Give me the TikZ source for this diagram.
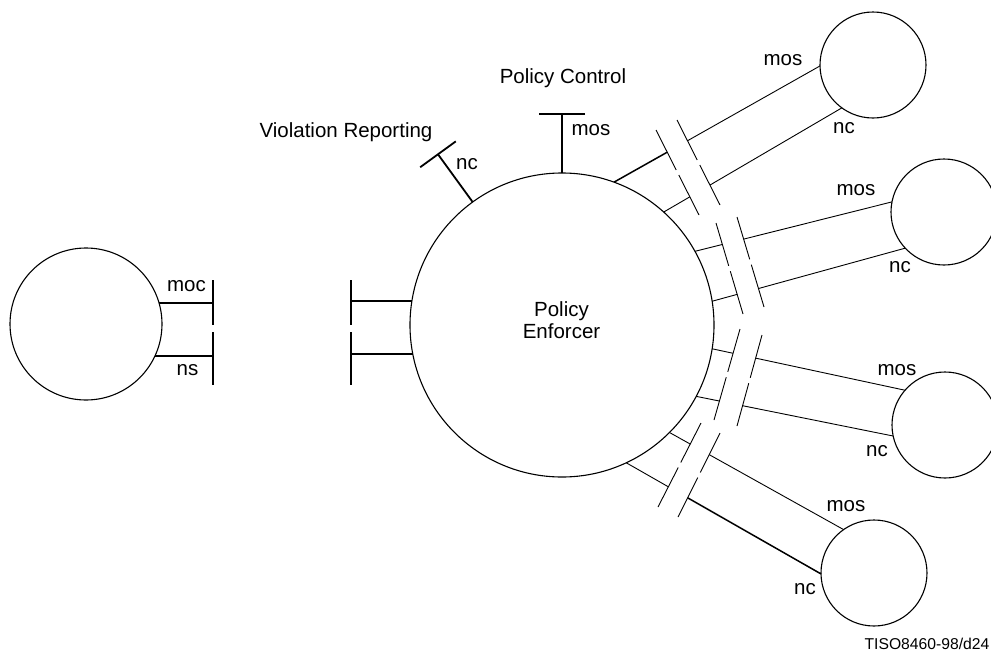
\documentclass[tikz,border=0pt]{standalone}
\usepackage{fontspec}
\setmainfont{Liberation Sans}
\usetikzlibrary{calc}
\begin{document}
\begin{tikzpicture}[x=1pt,y=-1pt,
  every node/.style={font=\fontsize{20.5}{22}\selectfont, inner sep=0pt, outer sep=0pt},
  circ/.style={draw, circle, line width=1.1pt, minimum size=#1, inner sep=0pt, outer sep=0pt},
  conn/.style={line width=0.9pt},
  thickconn/.style={line width=1.5pt},
  stub/.style={line width=1.8pt},
  brk/.style={line width=0.9pt},
  lbl/.style={anchor=base},
  small/.style={font=\fontsize{15.7}{18}\selectfont}]
\useasboundingbox (0,0) rectangle (991,651);

% circles
\node[circ=304pt] (main) at (562,325) {};
\node[circ=152pt] (L) at (86,324) {};
\node[circ=106pt] (r1) at (873,65) {};
\node[circ=106pt] (r2) at (944,212) {};
\node[circ=106pt] (r3) at (945,425) {};
\node[circ=106pt] (r4) at (874,573) {};

% texts
\node[lbl] (pe1) at (561.5,316) {Policy};
\node[lbl] (pe2) at (561.5,338) {Enforcer};
\node[lbl] (tpc) at (563,83) {Policy Control};
\node[lbl] (tvr) at (346,137) {Violation Reporting};
\node[lbl] (tmos0) at (591,135) {mos};
\node[lbl] (tnc0) at (467,169) {nc};
\node[lbl] (tmoc) at (186.5,291) {moc};
\node[lbl] (tns) at (187.5,375) {ns};
\node[lbl] (tmos1) at (783,65) {mos};
\node[lbl] (tnc1) at (844,133) {nc};
\node[lbl] (tmos2) at (856,195) {mos};
\node[lbl] (tnc2) at (900,272) {nc};
\node[lbl] (tmos3) at (897,375) {mos};
\node[lbl] (tnc3) at (877,456) {nc};
\node[lbl] (tmos4) at (846,511) {mos};
\node[lbl] (tnc4) at (805,594) {nc};
\node[lbl,small] (tref) at (927,649) {TISO8460-98/d24};

% top stub (Policy Control)
\coordinate (tpE) at ($(main.center)!211pt!(main.90)$);
\draw[stub] (main.90) -- (tpE);
\draw[stub] ($(tpE)!23pt!90:(main.center)$) -- ($(tpE)!23pt!-90:(main.center)$);

% violation reporting stub
\coordinate (vrE) at ($(main.center)!211pt!(main.126.9)$);
\draw[stub] (main.126.9) -- (vrE);
\draw[stub] ($(vrE)!22pt!90:(main.center)$) -- ($(vrE)!22pt!-90:(main.center)$);

% left stubs of main circle
\coordinate (mbar) at (351,0);
\draw[stub] (main.171.3) -- (main.171.3 -| mbar);
\draw[stub] (main.191.8) -- (main.191.8 -| mbar);
\draw[stub] (351,280) -- (351,325);
\draw[stub] (351,332) -- (351,385);

% stubs of left circle
\coordinate (lbar) at (213,0);
\draw[stub] (L.16.8) -- (L.16.8 -| lbar);
\draw[stub] (L.335.1) -- (L.335.1 -| lbar);
\draw[stub] (213,280) -- (213,325);
\draw[stub] (213,332) -- (213,385);

% break slashes
\coordinate (a1t) at (656,130); \coordinate (a1b) at (699,215);
\coordinate (b1t) at (677,120); \coordinate (b1b) at (720,205);
\coordinate (a2t) at (716,223); \coordinate (a2b) at (743,314);
\coordinate (b2t) at (737,217); \coordinate (b2b) at (764,307);
\coordinate (a3t) at (740,329); \coordinate (a3b) at (714,420);
\coordinate (b3t) at (762,335); \coordinate (b3b) at (737,426);
\coordinate (a4t) at (701,423); \coordinate (a4b) at (658,507);
\coordinate (b4t) at (720,433); \coordinate (b4b) at (678,517);
\foreach \s in {a1,b1,a2,b2,a3,b3,a4,b4}{
  \draw[brk] (\s t) -- ($(\s t)!.47!(\s b)$) ($(\s t)!.53!(\s b)$) -- (\s b);
}

% connector end points
\coordinate (g1mP) at (main.70);    \coordinate (g1mQ) at (r1.181);
\coordinate (g1nP) at (main.48.5);  \coordinate (g1nQ) at (r1.234.8);
\coordinate (g2mP) at (main.29.1);  \coordinate (g2mQ) at (r2.169.3);
\coordinate (g2nP) at (main.9.9);   \coordinate (g2nQ) at (r2.223.5);
\coordinate (g3mP) at (main.351.7); \coordinate (g3mQ) at (r3.139.4);
\coordinate (g3nP) at (main.332.4); \coordinate (g3nQ) at (r3.192.8);
\coordinate (g4mP) at (main.315);   \coordinate (g4mQ) at (r4.125.8);
\coordinate (g4nP) at (main.295.4); \coordinate (g4nQ) at (r4.181);

% connectors, interrupted between the slashes
\draw[thickconn] (g1mP) -- (intersection of g1mP--g1mQ and a1t--a1b);
\draw[conn] (intersection of g1mP--g1mQ and b1t--b1b) -- (g1mQ);
\draw[conn] (g1nP) -- (intersection of g1nP--g1nQ and a1t--a1b);
\draw[conn] (intersection of g1nP--g1nQ and b1t--b1b) -- (g1nQ);

\draw[conn] (g2mP) -- (intersection of g2mP--g2mQ and a2t--a2b);
\draw[conn] (intersection of g2mP--g2mQ and b2t--b2b) -- (g2mQ);
\draw[conn] (g2nP) -- (intersection of g2nP--g2nQ and a2t--a2b);
\draw[conn] (intersection of g2nP--g2nQ and b2t--b2b) -- (g2nQ);

\draw[conn] (g3mP) -- (intersection of g3mP--g3mQ and a3t--a3b);
\draw[conn] (intersection of g3mP--g3mQ and b3t--b3b) -- (g3mQ);
\draw[conn] (g3nP) -- (intersection of g3nP--g3nQ and a3t--a3b);
\draw[conn] (intersection of g3nP--g3nQ and b3t--b3b) -- (g3nQ);

\draw[conn] (g4mP) -- (intersection of g4mP--g4mQ and a4t--a4b);
\draw[conn] (intersection of g4mP--g4mQ and b4t--b4b) -- (g4mQ);
\draw[conn] (g4nP) -- (intersection of g4nP--g4nQ and a4t--a4b);
\draw[thickconn] (intersection of g4nP--g4nQ and b4t--b4b) -- (g4nQ);
\end{tikzpicture}
\end{document}
